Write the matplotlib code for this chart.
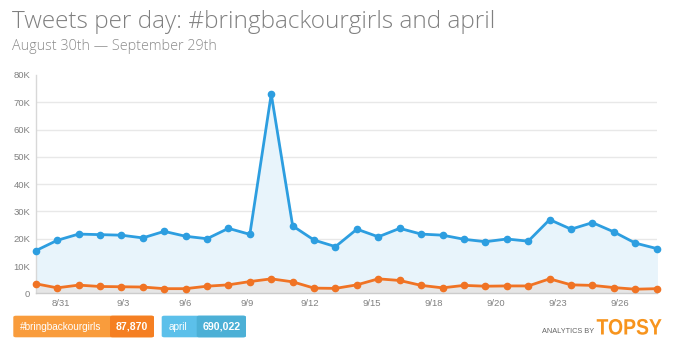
import numpy as np
import matplotlib.pyplot as plt
from matplotlib.patches import FancyBboxPatch, PathPatch
from matplotlib.textpath import TextPath
from matplotlib.font_manager import FontProperties
from matplotlib.transforms import Affine2D

# daily tweet counts, Aug 30 - Sep 28 (thousands)
days = np.arange(30)
april = [15.6, 19.4, 21.7, 21.5, 21.3, 20.3, 22.7, 20.9, 20.0, 23.8,
         21.6, 73.0, 24.7, 19.5, 17.1, 23.5, 20.7, 23.8, 21.7, 21.3,
         19.8, 18.9, 19.9, 19.1, 27.0, 23.5, 25.9, 22.5, 18.4, 16.4]
bbog = [3.5, 2.0, 3.0, 2.5, 2.4, 2.3, 1.7, 1.7, 2.6, 3.1,
        4.3, 5.3, 4.2, 1.9, 1.8, 3.1, 5.3, 4.7, 2.9, 2.0,
        2.9, 2.6, 2.7, 2.7, 5.3, 3.1, 2.9, 2.1, 1.5, 1.7]
tick_labels = ['8/31', '9/3', '9/6', '9/9', '9/12', '9/15', '9/18', '9/20', '9/23', '9/26']
y_ticks = [0, 10, 20, 30, 40, 50, 60, 70, 80]
y_labels = ['0', '10K', '20K', '30K', '40K', '50K', '60K', '70K', '80K']
totals = {'bbog': '87,870', 'april': '690,022'}

blue = '#2d9ee0'
orange = '#f07324'

fig = plt.figure(figsize=(6.73, 3.5), dpi=100)
ax = fig.add_axes([35.7 / 673, 1 - 293.3 / 350, (656.7 - 35.7) / 673, (293.3 - 75) / 350])

ax.fill_between(days, april, 0, color='#e8f4fb', zorder=1)
ax.fill_between(days, bbog, 0, color='#e6e6e6', zorder=2)
ax.plot(days, april, color=blue, lw=2, marker='o', ms=4.5, zorder=4, clip_on=False)
ax.plot(days, bbog, color=orange, lw=2, marker='o', ms=4.5, zorder=4, clip_on=False)

ax.set_xlim(0, 29)
ax.set_ylim(0, 80)
for y in y_ticks[1:-1]:
    ax.axhline(y, color='#e8e8e8', lw=1, zorder=0)

ax.set_yticks(y_ticks)
ax.set_yticklabels(y_labels)
# evenly spaced date ticks, every ~2.9 days
ax.set_xticks(1.18 + 2.9 * np.arange(len(tick_labels)))
ax.set_xticklabels(tick_labels)
ax.tick_params(length=0, labelsize=6.8, labelcolor='#808080', pad=4)
for lab in ax.get_xticklabels() + ax.get_yticklabels():
    lab.set_family('Liberation Sans')

for side in ['top', 'right']:
    ax.spines[side].set_visible(False)
ax.spines['left'].set_color('#d8d8d8')
ax.spines['bottom'].set_color('#cccccc')
ax.spines['left'].set_linewidth(1)
ax.spines['bottom'].set_linewidth(1)

fig.text(12 / 673, 1 - 28 / 350, 'Tweets per day: #bringbackourgirls and april',
         family='Open Sans', fontweight='light', fontsize=17.6, color='#808080', va='baseline')
fig.text(12 / 673, 1 - 50 / 350, 'August 30th \u2014 September 29th',
         family='Open Sans', fontweight='light', fontsize=10.4, color='#8c8c8c', va='baseline')


def badge(x0, xdiv, x1, light, dark, name, total):
    y0, y1 = 1 - 337.3 / 350, 1 - 315.7 / 350
    h = y1 - y0
    fig.patches.append(FancyBboxPatch((x0 / 673, y0), (x1 - x0) / 673, h,
                                      boxstyle='round,pad=0,rounding_size=0.004',
                                      transform=fig.transFigure, fc=light, ec='none'))
    fig.patches.append(FancyBboxPatch((xdiv / 673, y0), (x1 - xdiv) / 673, h,
                                      boxstyle='round,pad=0,rounding_size=0.004',
                                      transform=fig.transFigure, fc=dark, ec='none'))
    fig.text((x0 + 7) / 673, y0 + h / 2, name, color='white', fontsize=7.2,
             family='Liberation Sans', va='center')
    fig.text((xdiv + x1) / 2 / 673, y0 + h / 2, total, color='white', fontsize=7.6,
             family='Liberation Sans', fontweight='bold', va='center', ha='center')


badge(13.3, 110, 154, '#f99c3c', '#f57f22', '#bringbackourgirls', totals['bbog'])
badge(161.7, 196.7, 246, '#5cc0ea', '#4cb0d6', 'april', totals['april'])

fig.text(594 / 673, 1 - 331.5 / 350, 'ANALYTICS BY', fontsize=5.3, color='#666666',
         family='Liberation Sans', ha='right', va='center')

# condensed bold wordmark, squeezed horizontally
logo = TextPath((0, 0), 'TOPSY', size=22.3,
                prop=FontProperties(family='Liberation Sans', weight='bold'))
logo_tr = Affine2D().scale(0.87 / 100, 1 / 100).translate(596.5 / 100, (350 - 334.5) / 100) \
    + fig.dpi_scale_trans
fig.patches.append(PathPatch(logo, transform=logo_tr, fc='#f7941d', ec='none'))

fig.savefig('out.png', dpi=100)
